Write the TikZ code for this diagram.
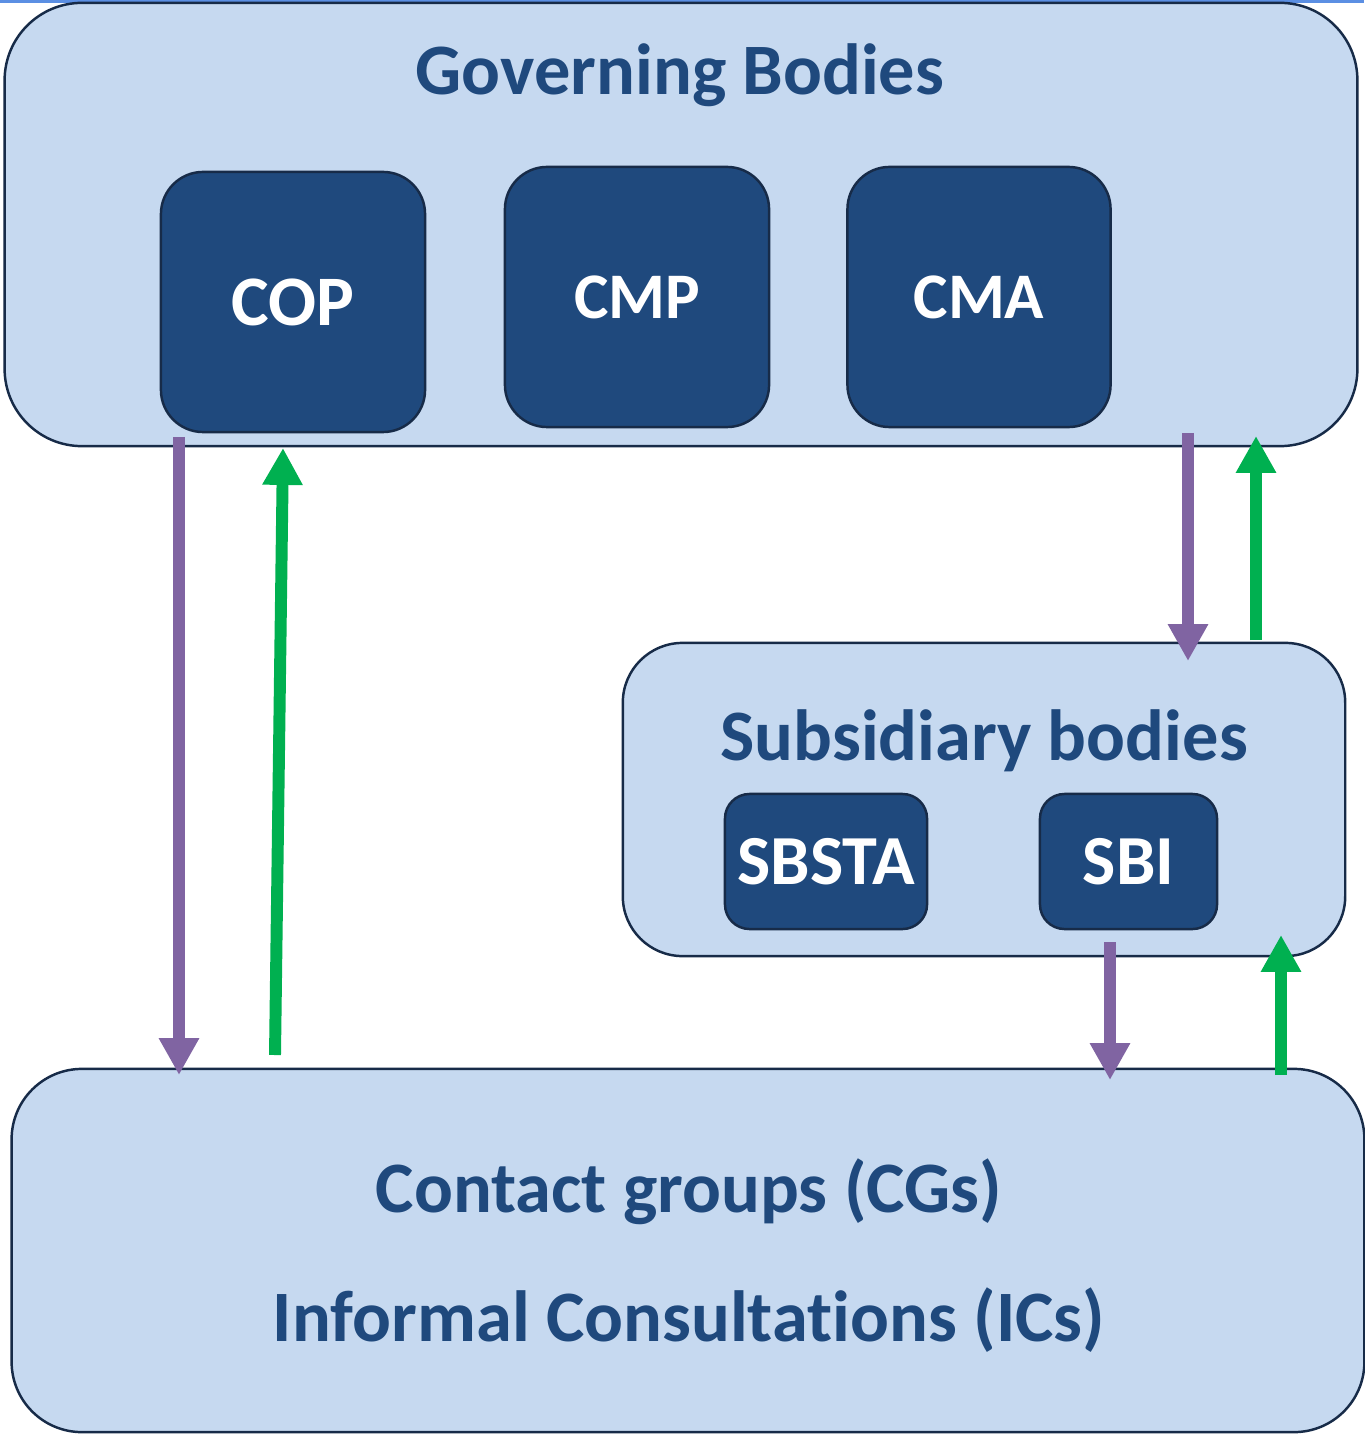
\documentclass[tikz,border=0pt]{standalone}
\usepackage{fontspec}
\setmainfont{Carlito}[Ligatures=NoCommon]
\usetikzlibrary{arrows.meta}
\definecolor{lightfill}{HTML}{C6D9F0}
\definecolor{darkfill}{HTML}{1F497D}
\definecolor{edgecol}{HTML}{172B48}
\definecolor{txtblue}{HTML}{1F497D}
\definecolor{purp}{HTML}{8064A2}
\definecolor{grn}{HTML}{00B050}
\definecolor{topline}{HTML}{5B8FE3}
\tikzset{
  bigbox/.style={draw=edgecol, line width=0.7pt, fill=lightfill, inner sep=0pt},
  smallbox/.style={draw=edgecol, line width=0.7pt, fill=darkfill, inner sep=0pt, text=white, font=\bfseries\fontsize{20}{24}\selectfont},
  heading/.style={text=txtblue, font=\bfseries\fontsize{20.6}{24}\selectfont, inner sep=0pt},
  purparrow/.style={draw=purp, line width=3.4pt, -{Triangle[width=10.8pt,length=10.5pt]}},
  grnarrow/.style={draw=grn, line width=3.4pt, -{Triangle[width=10.8pt,length=10.5pt]}},
}
\begin{document}
\begin{tikzpicture}[x=0.01cm, y=-0.01cm]
\useasboundingbox (0,0) rectangle (1364,1437);
\fill[white] (0,0) rectangle (1364,1437);
\fill[topline] (0,0) rectangle (1364,3);
% Governing bodies
\node[bigbox, rounded corners=22pt, minimum width=13.52cm, minimum height=4.43cm] (gov) at (681,224.5) {};
\node[heading] (govt) at (680,75) {Governing Bodies};
\node[smallbox, rounded corners=12pt, minimum width=2.64cm, minimum height=2.6cm, font=\bfseries\fontsize{20.2}{25}\selectfont] (cop) at (293,302) {COP};
\node[smallbox, rounded corners=12pt, minimum width=2.64cm, minimum height=2.6cm, font=\bfseries\fontsize{18.5}{22}\selectfont] (cmp) at (637,297) {CMP};
\node[smallbox, rounded corners=12pt, minimum width=2.63cm, minimum height=2.6cm, font=\bfseries\fontsize{18.5}{22}\selectfont] (cma) at (979,297) {CMA};
% Subsidiary bodies
\node[bigbox, rounded corners=17pt, minimum width=7.22cm, minimum height=3.13cm] (sub) at (984,799.5) {};
\node[heading] (subt) at (984,741) {Subsidiary bodies};
\node[smallbox, rounded corners=7pt, minimum width=2.02cm, minimum height=1.35cm] (sbsta) at (826,861.5) {SBSTA};
\node[smallbox, rounded corners=7pt, minimum width=1.77cm, minimum height=1.35cm] (sbi) at (1128.5,861.5) {SBI};
% Contact groups
\node[bigbox, rounded corners=20pt, minimum width=13.52cm, minimum height=3.63cm] (cg) at (688,1250.5) {};
\node[heading] (cgt) at (689,1192) {Contact groups (CGs)};
\node[heading] (ict) at (689,1320) {Informal Consultations (ICs)};
% arrow coordinates
\coordinate (p1s) at (179,437);
\coordinate (p1e) at (179,1075);
\coordinate (g1s) at (275,1055);
\coordinate (g1e) at (283,448);
\coordinate (p2s) at (1188,433);
\coordinate (p2e) at (1188,661);
\coordinate (g2s) at (1256,640);
\coordinate (g2e) at (1256,436);
\coordinate (p3s) at (1110,942);
\coordinate (p3e) at (1110,1080);
\coordinate (g3s) at (1281,1075);
\coordinate (g3e) at (1281,935);
\draw[purparrow] (p1s) -- (p1e);
\draw[grnarrow] (g1s) -- (g1e);
\draw[purparrow] (p2s) -- (p2e);
\draw[grnarrow] (g2s) -- (g2e);
\draw[purparrow] (p3s) -- (p3e);
\draw[grnarrow] (g3s) -- (g3e);
\end{tikzpicture}
\end{document}
